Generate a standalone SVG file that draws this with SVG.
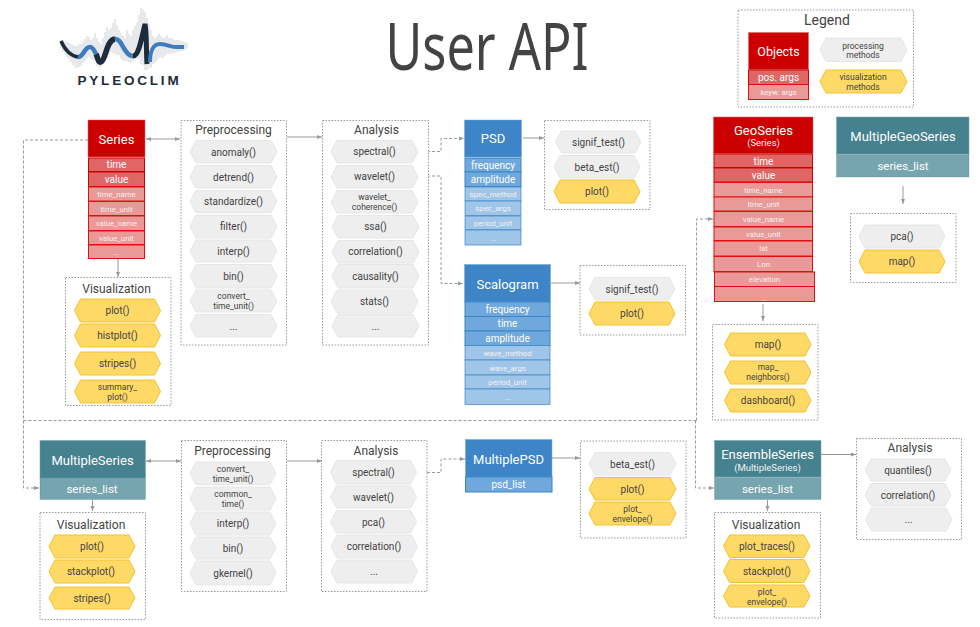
<svg xmlns="http://www.w3.org/2000/svg" width="980" height="627" viewBox="0 0 980 627">
<style>
text{font-family:Roboto,"Noto Sans",sans-serif;text-anchor:middle;fill:#434343}
.box{fill:#fff;stroke:#999;stroke-width:1;stroke-dasharray:1.5 1.5}
.g{fill:#eee;stroke:#e6e6e6;stroke-width:1}
.y{fill:#ffd966;stroke:#f1c232;stroke-width:1}
.m{font-size:10px}
.m2{font-size:8.500px}
.t{font-size:12px}
.h{font-size:13px;fill:#fff}
.hs{font-size:9.500px;fill:#f3f3f3}
.r1{font-size:10px;fill:#fff}
.r2{font-size:7.800px;fill:#f6f0f0}
.sl{font-size:11.500px;fill:#fff}
.red{fill:#c00;stroke:#e06666;stroke-width:.5}
.ra{fill:#e06666;stroke:#c00;stroke-width:1}
.rb{fill:#ea9999;stroke:#e01010;stroke-width:1}
.blue{fill:#3d85c6;stroke:#6fa8dc;stroke-width:.5}
.ba{fill:#6fa8dc;stroke:#3d85c6;stroke-width:1}
.bb{fill:#9fc5e8;stroke:#3d85c6;stroke-width:.7}
.teal{fill:#45818e;stroke:#76a5af;stroke-width:.5}
.tb{fill:#76a5af;stroke:#45818e;stroke-width:.3}
.c{fill:none;stroke:#999;stroke-width:1}
.d{fill:none;stroke:#999;stroke-width:1;stroke-dasharray:3 2}
.a{marker-end:url(#ah)}
.a2{marker-end:url(#ah);marker-start:url(#ahs)}
</style>
<defs>
<marker id="ah" markerWidth="6" markerHeight="6" refX="5" refY="2.500" orient="auto" markerUnits="userSpaceOnUse"><path d="M0 0.500L5 2.500L0 4.500Z" fill="#999"/></marker>
<marker id="ahs" markerWidth="6" markerHeight="6" refX="0" refY="2.500" orient="auto" markerUnits="userSpaceOnUse"><path d="M5 0.500L0 2.500L5 4.500Z" fill="#999"/></marker>
</defs>
<rect width="980" height="627" fill="#fff"/>

<g id="logo">
<path d="M61 40v8M63 40v12M65 41v14M67 42v15M69 42v17M71 44v18M73 45v20M75 46v21M77 46v22M79 44v23M81 44v22M83 42v21M85 39v22M87 36v22M89 37v20M91 40v19M93 38v22M95 33v27M97 38v28M99 42v25M101 44v23M103 38v26M105 32v28M107 27v31M109 30v25M111 28v24M113 23v30M115 19v35M117 25v30M119 30v25M121 33v26M123 36v25M125 38v23M127 30v31M129 34v28M131 36v27M133 30v31M135 26v33M137 22v37M139 15v44M141 8v56M143 9v56M145 12v58M147 18v52M149 24v44M151 30v38M153 36v28M155 38v25M157 36v25M159 34v24M161 36v21M163 38v20M165 37v19M167 35v19M169 38v16M171 38v16M173 39v14M175 40v13M177 40v12M179 40v12M181 41v10M183 41v10M185 42v8M187 43v5" fill="none" stroke="#d3d6da" stroke-width="1.100"/>
<path d="M61 41C65 50 71 56 78 57" fill="none" stroke="#1d2b3a" stroke-width="3.500"/>
<path d="M78 57C84 57 84 47 90 47C93 47 95 52 96 54" fill="none" stroke="#3d7cbf" stroke-width="4.500"/>
<path d="M96 54C98 58 98 63 101 62C106 60 106 40 115 39" fill="none" stroke="#1d2b3a" stroke-width="5.500"/>
<path d="M115 39C122 38 124 56 133 56" fill="none" stroke="#3d7cbf" stroke-width="4.500"/>
<path d="M133 56C139 56 141 40 145 24C147 36 146 50 147 64" fill="none" stroke="#1d2b3a" stroke-width="5"/>
<path d="M150 62C150 52 153 44 160 44C168 44 172 48 178 47L184 47" fill="none" stroke="#3d7cbf" stroke-width="4"/>
<text x="129.500" y="85" style="font-family:'Liberation Sans',sans-serif;font-size:13.500px;font-weight:700;letter-spacing:2.800px;fill:#1d2b3a">PYLEOCLIM</text>
</g>
<text x="487" y="70" style="font-family:'Noto Sans',sans-serif;font-size:66px" textLength="203" lengthAdjust="spacingAndGlyphs">User API</text>

<g id="connectors">
<path class="d a" d="M88 140H23.500V488H39"/>
<path class="d" d="M23.500 420.500H696.500"/>
<path class="d a" d="M696.500 420.500V219H713"/>
<path class="d a" d="M695.500 420.500V488H714"/>
<path class="c a2" d="M146 139H180"/>
<path class="c a" d="M287 137H322"/>
<path class="c a" d="M118 259V277"/>
<path class="d a" d="M417 151.500H441V138.500H464"/>
<path class="d a" d="M417 176H441V283.500H463"/>
<path class="c a" d="M523 138H544"/>
<path class="c a" d="M551 283H580"/>
<path class="c a" d="M903 186V204"/>
<path class="c a" d="M763 304V321"/>
<path class="c a" d="M821 454.500H856"/>
<path class="c a" d="M767.500 500V511"/>
<path class="c a2" d="M146 461H181"/>
<path class="c a" d="M287 461H322"/>
<path class="c a" d="M92.500 500V511"/>
<path class="d a" d="M417 472.500H441V459H465"/>
<path class="c a" d="M552 458H580"/>
</g>

<g id="legend">
<rect class="box" x="738" y="10" width="175.500" height="97"/>
<text style="font-size:14px" x="827" y="24.500">Legend</text>
<rect class="red" x="748.500" y="32.500" width="60" height="37"/><text class="h" style="font-size:12.500px" x="778.500" y="56">Objects</text>
<rect class="ra" x="748.500" y="70" width="60" height="14.500"/><text class="r1" x="778.500" y="80.500">pos. args</text>
<rect class="rb" x="748.500" y="84.500" width="60" height="15"/><text class="r2" x="778.500" y="95">keyw. args</text>
<polygon class="g" points="826,38 901,38 907,50 901,61.500 826,61.500 820,50"/><text class="m2" x="863" y="48.500">processing</text><text class="m2" x="863" y="58">methods</text>
<polygon class="y" points="826,70 901,70 907,81.500 901,93 826,93 820,81.500"/><text class="m2" x="863" y="80">visualization</text><text class="m2" x="863" y="89.500">methods</text>
</g>

<g id="series">
<rect class="red" x="88" y="120" width="57" height="37"/><text class="h" x="116.500" y="144">Series</text>
<rect class="ra" x="88.500" y="158" width="56" height="13.500"/><text class="r1" x="116.500" y="168">time</text>
<rect class="ra" x="88.500" y="172" width="56" height="14.500"/><text class="r1" x="116.500" y="182.500">value</text>
<rect class="rb" x="88.500" y="187" width="56" height="14"/><text class="r2" x="116.500" y="197">time_name</text>
<rect class="rb" x="88.500" y="201.500" width="56" height="14"/><text class="r2" x="116.500" y="211.500">time_unit</text>
<rect class="rb" x="88.500" y="216" width="56" height="14.500"/><text class="r2" x="116.500" y="226">value_name</text>
<rect class="rb" x="88.500" y="231" width="56" height="13.500"/><text class="r2" x="116.500" y="240.500">value_unit</text>
<rect class="rb" x="88.500" y="245" width="56" height="13.500"/><text class="r2" x="116.500" y="255">...</text>
</g>

<g id="series-preprocessing">
<rect class="box" x="181" y="120.500" width="105.500" height="224.500"/>
<text class="t" x="233.500" y="134">Preprocessing</text>
<polygon class="g" points="196,140.500 271,140.500 277,152 271,163 196,163 190,152"/><text class="m" x="233.500" y="155.500">anomaly()</text>
<polygon class="g" points="196,165.500 271,165.500 277,177 271,188 196,188 190,177"/><text class="m" x="233.500" y="180.500">detrend()</text>
<polygon class="g" points="196,190.500 271,190.500 277,201.500 271,212.500 196,212.500 190,201.500"/><text class="m" x="233.500" y="205">standardize()</text>
<polygon class="g" points="196,215 271,215 277,226.500 271,238 196,238 190,226.500"/><text class="m" x="233.500" y="230">filter()</text>
<polygon class="g" points="196,240 271,240 277,251 271,262 196,262 190,251"/><text class="m" x="233.500" y="254.500">interp()</text>
<polygon class="g" points="196,264.500 271,264.500 277,276 271,288 196,288 190,276"/><text class="m" x="233.500" y="279.500">bin()</text>
<polygon class="g" points="196,290 271,290 277,301 271,312 196,312 190,301"/><text class="m2" x="233.500" y="299">convert_</text><text class="m2" x="233.500" y="309">time_unit()</text>
<polygon class="g" points="196,314.500 271,314.500 277,326 271,337 196,337 190,326"/><text class="m" x="233.500" y="329.500">...</text>
</g>

<g id="series-analysis">
<rect class="box" x="322.500" y="120.500" width="106" height="224.500"/>
<text class="t" x="376.500" y="134">Analysis</text>
<polygon class="g" points="337,140.500 412,140.500 418,152 412,163 337,163 331,152"/><text class="m" x="374.500" y="155">spectral()</text>
<polygon class="g" points="337,165.500 412,165.500 418,177 412,188 337,188 331,177"/><text class="m" x="374.500" y="180">wavelet()</text>
<polygon class="g" points="337,190.500 412,190.500 418,202 412,213 337,213 331,202"/><text class="m2" x="374.500" y="200">wavelet_</text><text class="m2" x="374.500" y="210">coherence()</text>
<polygon class="g" points="338,215.500 413,215.500 419,227 413,238 338,238 332,227"/><text class="m" x="375.500" y="230">ssa()</text>
<polygon class="g" points="338,240.500 413,240.500 419,252 413,263 338,263 332,252"/><text class="m" x="375.500" y="255">correlation()</text>
<polygon class="g" points="338,264.500 413,264.500 419,276 413,288 338,288 332,276"/><text class="m" x="375.500" y="280">causality()</text>
<polygon class="g" points="337,290 412,290 418,301.500 412,313 337,313 331,301.500"/><text class="m" x="374.500" y="305">stats()</text>
<polygon class="g" points="338,314.500 413,314.500 419,326 413,337 338,337 332,326"/><text class="m" x="375.500" y="330">...</text>
</g>

<g id="series-visualization">
<rect class="box" x="65.500" y="277.500" width="105.500" height="128"/>
<text class="t" x="116.500" y="293">Visualization</text>
<polygon class="y" points="80.500,299 154.500,299 160.500,310.500 154.500,322 80.500,322 74.500,310.500"/><text class="m" x="117.500" y="314">plot()</text>
<polygon class="y" points="80.500,324 154.500,324 160.500,335.500 154.500,347 80.500,347 74.500,335.500"/><text class="m" x="117.500" y="339">histplot()</text>
<polygon class="y" points="80.500,352 154.500,352 160.500,363.500 154.500,375 80.500,375 74.500,363.500"/><text class="m" x="117.500" y="367">stripes()</text>
<polygon class="y" points="80.500,380 154.500,380 160.500,391.500 154.500,403 80.500,403 74.500,391.500"/><text class="m2" x="117.500" y="390">summary_</text><text class="m2" x="117.500" y="400">plot()</text>
</g>

<g id="psd">
<rect class="blue" x="464.500" y="120" width="57" height="37"/><text class="h" x="493" y="143">PSD</text>
<rect class="ba" x="465" y="158" width="56" height="14"/><text class="r1" x="493" y="168.500">frequency</text>
<rect class="ba" x="465" y="172" width="56" height="14.500"/><text class="r1" x="493" y="182.500">amplitude</text>
<rect class="bb" x="465" y="187" width="56" height="14"/><text class="r2" x="493" y="197">spec_method</text>
<rect class="bb" x="465" y="201" width="56" height="14.500"/><text class="r2" x="493" y="211">spec_args</text>
<rect class="bb" x="465" y="216" width="56" height="13.500"/><text class="r2" x="493" y="226">period_unit</text>
<rect class="bb" x="465" y="230" width="56" height="15"/><text class="r2" x="493" y="241">...</text>
</g>

<g id="psd-methods">
<rect class="box" x="544.500" y="120.500" width="105.500" height="89"/>
<polygon class="g" points="561.500,131 635,131 641,142 635,153 561.500,153 555.500,142"/><text class="m" x="598.500" y="145.500">signif_test()</text>
<polygon class="g" points="560,155.500 634,155.500 640,167 634,178 560,178 554,167"/><text class="m" x="597" y="170.500">beta_est()</text>
<polygon class="y" points="560,180 634,180 640,191.500 634,203 560,203 554,191.500"/><text class="m" x="597" y="195">plot()</text>
</g>

<g id="scalogram">
<rect class="blue" x="464.500" y="264.500" width="86" height="37.500"/><text class="h" x="507.500" y="288.500">Scalogram</text>
<rect class="ba" x="465" y="302" width="85" height="14.500"/><text class="r1" x="507.500" y="313">frequency</text>
<rect class="ba" x="465" y="316.500" width="85" height="14.500"/><text class="r1" x="507.500" y="327">time</text>
<rect class="ba" x="465" y="331" width="85" height="14.500"/><text class="r1" x="507.500" y="342">amplitude</text>
<rect class="bb" x="465" y="345.500" width="85" height="14.500"/><text class="r2" x="507.500" y="356">wave_method</text>
<rect class="bb" x="465" y="360" width="85" height="15"/><text class="r2" x="507.500" y="371">wave_args</text>
<rect class="bb" x="465" y="375" width="85" height="14"/><text class="r2" x="507.500" y="385">period_unit</text>
<rect class="bb" x="465" y="389" width="85" height="15.500"/><text class="r2" x="507.500" y="400">...</text>
</g>

<g id="scalogram-methods">
<rect class="box" x="580" y="265.500" width="105.500" height="69.500"/>
<polygon class="g" points="595,277.500 669,277.500 675,289 669,300 595,300 589,289"/><text class="m" x="632" y="292.500">signif_test()</text>
<polygon class="y" points="595,302 669,302 675,313.500 669,325 595,325 589,313.500"/><text class="m" x="632" y="317">plot()</text>
</g>

<g id="geoseries">
<rect class="red" x="713.500" y="117" width="99.500" height="36.500"/><text class="h" x="763.500" y="135">GeoSeries</text><text class="hs" x="763.500" y="146">(Series)</text>
<rect class="ra" x="714" y="154" width="98.500" height="13.500"/><text class="r1" x="763.500" y="164.500">time</text>
<rect class="ra" x="714" y="168" width="98.500" height="14"/><text class="r1" x="763.500" y="178.500">value</text>
<rect class="rb" x="714" y="182.500" width="98.500" height="14.500"/><text class="r2" x="763.500" y="193">time_name</text>
<rect class="rb" x="714" y="197" width="98.500" height="14"/><text class="r2" x="763.500" y="207">time_unit</text>
<rect class="rb" x="714" y="211.500" width="98.500" height="15"/><text class="r2" x="763.500" y="222">value_name</text>
<rect class="rb" x="714" y="227" width="98.500" height="13.500"/><text class="r2" x="763.500" y="236.500">value_unit</text>
<rect class="rb" x="714" y="241" width="98.500" height="15"/><text class="r2" x="763.500" y="250.500">lat</text>
<rect class="rb" x="714" y="256.500" width="98.500" height="15"/><text class="r2" x="763.500" y="267">Lon</text>
<rect class="rb" x="714.500" y="272" width="100" height="14.500"/><text class="r2" x="764.500" y="282">elevation</text>
<rect class="rb" x="714.500" y="286.500" width="100" height="15"/><text class="r2" x="764.500" y="301">...</text>
</g>

<g id="geoseries-methods">
<rect class="box" x="712.500" y="324.500" width="105.500" height="95.500"/>
<polygon class="y" points="730.500,333 805,333 811,344.500 805,356 730.500,356 724.500,344.500"/><text class="m" x="768" y="348">map()</text>
<polygon class="y" points="730.500,361 805,361 811,372.500 805,384 730.500,384 724.500,372.500"/><text class="m2" x="768" y="370">map_</text><text class="m2" x="768" y="380">neighbors()</text>
<polygon class="y" points="730.500,389 805,389 811,400.500 805,412 730.500,412 724.500,400.500"/><text class="m" x="768" y="404">dashboard()</text>
</g>

<g id="multiplegeoseries">
<rect class="teal" x="836.500" y="117" width="132.500" height="37"/><text class="h" x="903" y="141">MultipleGeoSeries</text>
<rect class="tb" x="836.500" y="154.500" width="132.500" height="22.500"/><text class="sl" x="903" y="170">series_list</text>
</g>

<g id="multiplegeoseries-methods">
<rect class="box" x="850.500" y="213.500" width="105.500" height="69"/>
<polygon class="g" points="865,225 939,225 945,236.500 939,248 865,248 859,236.500"/><text class="m" x="902" y="240">pca()</text>
<polygon class="y" points="865,250 939,250 945,261.500 939,273 865,273 859,261.500"/><text class="m" x="902" y="265">map()</text>
</g>

<g id="multipleseries">
<rect class="teal" x="40" y="440.500" width="105.500" height="37.500"/><text class="h" x="92.500" y="464.500">MultipleSeries</text>
<rect class="tb" x="40" y="478" width="105.500" height="21.500"/><text class="sl" x="92" y="493">series_list</text>
</g>

<g id="multipleseries-visualization">
<rect class="box" x="40" y="512.500" width="105.500" height="107"/>
<text class="t" x="91" y="529">Visualization</text>
<polygon class="y" points="55,535 129,535 135,546.500 129,558 55,558 49,546.500"/><text class="m" x="92" y="550">plot()</text>
<polygon class="y" points="55,560 129,560 135,571.500 129,583 55,583 49,571.500"/><text class="m" x="91" y="575">stackplot()</text>
<polygon class="y" points="55,587 129,587 135,598 129,609 55,609 49,598"/><text class="m" x="92" y="601.500">stripes()</text>
</g>

<g id="multipleseries-preprocessing">
<rect class="box" x="181.500" y="440.500" width="105" height="151"/>
<text class="t" x="232.500" y="455">Preprocessing</text>
<polygon class="g" points="196,462 270,462 276,473.500 270,484.500 196,484.500 190,473.500"/><text class="m2" x="233" y="471.500">convert_</text><text class="m2" x="233" y="482">time_unit()</text>
<polygon class="g" points="196,487 270,487 276,498.500 270,510 196,510 190,498.500"/><text class="m2" x="233" y="496.500">common_</text><text class="m2" x="233" y="507">time()</text>
<polygon class="g" points="196,512 270,512 276,523.500 270,535 196,535 190,523.500"/><text class="m" x="233" y="527">interp()</text>
<polygon class="g" points="196,537 270,537 276,548 270,559 196,559 190,548"/><text class="m" x="233" y="551.500">bin()</text>
<polygon class="g" points="196,561 270,561 276,573 270,585 196,585 190,573"/><text class="m" x="233" y="576.500">gkernel()</text>
</g>

<g id="multipleseries-analysis">
<rect class="box" x="321.500" y="440.500" width="105.500" height="151"/>
<text class="t" x="376" y="454.500">Analysis</text>
<polygon class="g" points="336.500,460.500 410.500,460.500 416.500,472 410.500,484 336.500,484 330.500,472"/><text class="m" x="373.500" y="475.500">spectral()</text>
<polygon class="g" points="336.500,486 410.500,486 416.500,497 410.500,508 336.500,508 330.500,497"/><text class="m" x="373.500" y="500.500">wavelet()</text>
<polygon class="g" points="336.500,510.500 410.500,510.500 416.500,522 410.500,533 336.500,533 330.500,522"/><text class="m" x="373.500" y="525.500">pca()</text>
<polygon class="g" points="337,535 411.500,535 417.500,546.500 411.500,558 337,558 331,546.500"/><text class="m" x="374" y="550">correlation()</text>
<polygon class="g" points="337,560 411.500,560 417.500,571.500 411.500,583 337,583 331,571.500"/><text class="m" x="374" y="575">...</text>
</g>

<g id="multiplepsd">
<rect class="blue" x="465.500" y="439.500" width="86.500" height="37.500"/><text class="h" x="508.500" y="463.500">MultiplePSD</text>
<rect class="ba" x="465.500" y="477" width="86.500" height="15"/><text class="r1" x="508.500" y="488">psd_list</text>
</g>

<g id="multiplepsd-methods">
<rect class="box" x="580.500" y="441" width="105.500" height="97"/>
<polygon class="g" points="595,452.500 670,452.500 676,464 670,475 595,475 589,464"/><text class="m" x="632.500" y="467.500">beta_est()</text>
<polygon class="y" points="595,477.500 670,477.500 676,489 670,500 595,500 589,489"/><text class="m" x="632.500" y="492.500">plot()</text>
<polygon class="y" points="595,502 670,502 676,513.500 670,525 595,525 589,513.500"/><text class="m2" x="632.500" y="512">plot_</text><text class="m2" x="632.500" y="522">envelope()</text>
</g>

<g id="ensembleseries">
<rect class="teal" x="714.500" y="440.500" width="106.500" height="36.500"/><text class="h" x="767.500" y="459">EnsembleSeries</text><text class="hs" x="767.500" y="470.500">(MultipleSeries)</text>
<rect class="tb" x="714.500" y="477.500" width="106.500" height="22"/><text class="sl" x="767.500" y="492.500">series_list</text>
</g>

<g id="ensembleseries-analysis">
<rect class="box" x="856.500" y="438.500" width="105" height="101"/>
<text class="t" x="910" y="452">Analysis</text>
<polygon class="g" points="871,459 945,459 951,470 945,481 871,481 865,470"/><text class="m" x="908" y="473.500">quantiles()</text>
<polygon class="g" points="871,483.500 945,483.500 951,495 945,506 871,506 865,495"/><text class="m" x="908" y="498.500">correlation()</text>
<polygon class="g" points="871.500,508 946,508 952,519.500 946,531 871.500,531 865.500,519.500"/><text class="m" x="908.500" y="523">...</text>
</g>

<g id="ensembleseries-visualization">
<rect class="box" x="714.500" y="512.500" width="106" height="105.500"/>
<text class="t" x="766" y="529">Visualization</text>
<polygon class="y" points="729.500,535 804,535 810,546 804,557.500 729.500,557.500 723.500,546"/><text class="m" x="767" y="550">plot_traces()</text>
<polygon class="y" points="729.500,559.500 804,559.500 810,571 804,582.500 729.500,582.500 723.500,571"/><text class="m" x="767" y="574.500">stackplot()</text>
<polygon class="y" points="729.500,585 804,585 810,596 804,607 729.500,607 723.500,596"/><text class="m2" x="767" y="594.500">plot_</text><text class="m2" x="767" y="604.500">envelope()</text>
</g>
</svg>
